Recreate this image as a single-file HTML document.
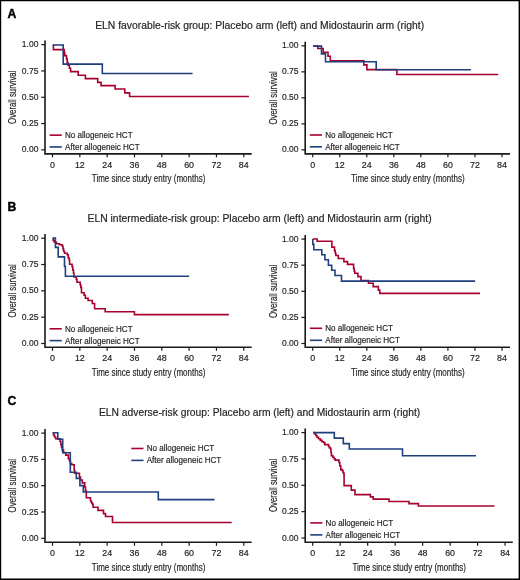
<!DOCTYPE html><html><head><meta charset="utf-8"><style>html,body{margin:0;padding:0;background:#fff;}svg{display:block;will-change:transform;}</style></head><body>
<svg width="520" height="580" viewBox="0 0 520 580" font-family='"Liberation Sans", sans-serif'>
<style>text{stroke:#2a2a2a;stroke-width:0.18px;}</style>
<rect x="0" y="0" width="520" height="580" fill="#fff"/>
<path d="M0,0 H520 V580 H0 Z M1.2,1.2 V578.6 H518.6 V1.2 Z" fill="#000" fill-rule="evenodd"/>
<text x="7.4" y="17.5" font-size="12.2" font-weight="bold" fill="#000" style="stroke:#000;stroke-width:0.4px">A</text>
<text x="7.4" y="210.7" font-size="12.2" font-weight="bold" fill="#000" style="stroke:#000;stroke-width:0.4px">B</text>
<text x="7.4" y="404.5" font-size="12.2" font-weight="bold" fill="#000" style="stroke:#000;stroke-width:0.4px">C</text>
<text x="95.20" y="29.2" font-size="10.1" fill="#222" textLength="328.90" lengthAdjust="spacingAndGlyphs">ELN favorable-risk group: Placebo arm (left) and Midostaurin arm (right)</text>
<text x="87.50" y="222.3" font-size="10.1" fill="#222" textLength="344.20" lengthAdjust="spacingAndGlyphs">ELN intermediate-risk group: Placebo arm (left) and Midostaurin arm (right)</text>
<text x="99.00" y="415.9" font-size="10.1" fill="#222" textLength="321.20" lengthAdjust="spacingAndGlyphs">ELN adverse-risk group: Placebo arm (left) and Midostaurin arm (right)</text>
<path d="M45.00,40.60 V153.85 H251.70" fill="none" stroke="#1a1a1a" stroke-width="1.6" stroke-linejoin="miter"/>
<line x1="41.20" y1="149.85" x2="45.00" y2="149.85" stroke="#1a1a1a" stroke-width="1.2"/>
<text x="38.40" y="152.45" font-size="9.3" fill="#222" text-anchor="end" textLength="16.6" lengthAdjust="spacingAndGlyphs">0.00</text>
<line x1="41.20" y1="123.55" x2="45.00" y2="123.55" stroke="#1a1a1a" stroke-width="1.2"/>
<text x="38.40" y="126.15" font-size="9.3" fill="#222" text-anchor="end" textLength="16.6" lengthAdjust="spacingAndGlyphs">0.25</text>
<line x1="41.20" y1="97.25" x2="45.00" y2="97.25" stroke="#1a1a1a" stroke-width="1.2"/>
<text x="38.40" y="99.85" font-size="9.3" fill="#222" text-anchor="end" textLength="16.6" lengthAdjust="spacingAndGlyphs">0.50</text>
<line x1="41.20" y1="70.95" x2="45.00" y2="70.95" stroke="#1a1a1a" stroke-width="1.2"/>
<text x="38.40" y="73.55" font-size="9.3" fill="#222" text-anchor="end" textLength="16.6" lengthAdjust="spacingAndGlyphs">0.75</text>
<line x1="41.20" y1="44.65" x2="45.00" y2="44.65" stroke="#1a1a1a" stroke-width="1.2"/>
<text x="38.40" y="47.25" font-size="9.3" fill="#222" text-anchor="end" textLength="16.6" lengthAdjust="spacingAndGlyphs">1.00</text>
<line x1="52.50" y1="153.85" x2="52.50" y2="157.35" stroke="#1a1a1a" stroke-width="1.2"/>
<text x="52.50" y="167.95" font-size="8.9" fill="#222" text-anchor="middle">0</text>
<line x1="79.83" y1="153.85" x2="79.83" y2="157.35" stroke="#1a1a1a" stroke-width="1.2"/>
<text x="79.83" y="167.95" font-size="8.9" fill="#222" text-anchor="middle">12</text>
<line x1="107.16" y1="153.85" x2="107.16" y2="157.35" stroke="#1a1a1a" stroke-width="1.2"/>
<text x="107.16" y="167.95" font-size="8.9" fill="#222" text-anchor="middle">24</text>
<line x1="134.49" y1="153.85" x2="134.49" y2="157.35" stroke="#1a1a1a" stroke-width="1.2"/>
<text x="134.49" y="167.95" font-size="8.9" fill="#222" text-anchor="middle">36</text>
<line x1="161.81" y1="153.85" x2="161.81" y2="157.35" stroke="#1a1a1a" stroke-width="1.2"/>
<text x="161.81" y="167.95" font-size="8.9" fill="#222" text-anchor="middle">48</text>
<line x1="189.14" y1="153.85" x2="189.14" y2="157.35" stroke="#1a1a1a" stroke-width="1.2"/>
<text x="189.14" y="167.95" font-size="8.9" fill="#222" text-anchor="middle">60</text>
<line x1="216.47" y1="153.85" x2="216.47" y2="157.35" stroke="#1a1a1a" stroke-width="1.2"/>
<text x="216.47" y="167.95" font-size="8.9" fill="#222" text-anchor="middle">72</text>
<line x1="243.80" y1="153.85" x2="243.80" y2="157.35" stroke="#1a1a1a" stroke-width="1.2"/>
<text x="243.80" y="167.95" font-size="8.9" fill="#222" text-anchor="middle">84</text>
<text x="91.85" y="182.15" font-size="10.8" fill="#222" textLength="113.5" lengthAdjust="spacingAndGlyphs">Time since study entry (months)</text>
<text transform="translate(16.30,123.95) rotate(-90)" x="0" y="0" font-size="10.5" fill="#222" textLength="53.4" lengthAdjust="spacingAndGlyphs">Overall survival</text>
<line x1="49.60" y1="135.15" x2="61.80" y2="135.15" stroke="#a8002e" stroke-width="1.6"/>
<text x="65.00" y="138.10" font-size="8.9" fill="#222" textLength="67.6" lengthAdjust="spacingAndGlyphs">No allogeneic HCT</text>
<line x1="49.60" y1="146.95" x2="61.80" y2="146.95" stroke="#1f3f7d" stroke-width="1.6"/>
<text x="65.00" y="149.90" font-size="8.9" fill="#222" textLength="74.6" lengthAdjust="spacingAndGlyphs">After allogeneic HCT</text>
<path d="M52.8,45.0 H53.4 V49.6 H64.2 V52.2 H64.7 V55.6 H66.5 V59.0 H67.2 V62.6 H68.0 V65.1 H69.4 V68.2 H70.6 V71.6 H78.2 V75.2 H85.4 V78.6 H97.7 V82.4 H101.1 V85.6 H115.1 V89.0 H124.8 V92.9 H129.6 V96.5 H248.9 V96.5" fill="none" stroke="#a8002e" stroke-width="1.6" stroke-linejoin="miter" stroke-linecap="butt"/>
<path d="M52.8,45.0 H63.2 V64.1 H102.3 V73.5 H192.6 V73.5" fill="none" stroke="#1f3f7d" stroke-width="1.6" stroke-linejoin="miter" stroke-linecap="butt"/>
<path d="M305.20,41.80 V153.85 H510.00" fill="none" stroke="#1a1a1a" stroke-width="1.6" stroke-linejoin="miter"/>
<line x1="301.40" y1="149.85" x2="305.20" y2="149.85" stroke="#1a1a1a" stroke-width="1.2"/>
<text x="298.60" y="152.45" font-size="9.3" fill="#222" text-anchor="end" textLength="16.6" lengthAdjust="spacingAndGlyphs">0.00</text>
<line x1="301.40" y1="123.85" x2="305.20" y2="123.85" stroke="#1a1a1a" stroke-width="1.2"/>
<text x="298.60" y="126.45" font-size="9.3" fill="#222" text-anchor="end" textLength="16.6" lengthAdjust="spacingAndGlyphs">0.25</text>
<line x1="301.40" y1="97.85" x2="305.20" y2="97.85" stroke="#1a1a1a" stroke-width="1.2"/>
<text x="298.60" y="100.45" font-size="9.3" fill="#222" text-anchor="end" textLength="16.6" lengthAdjust="spacingAndGlyphs">0.50</text>
<line x1="301.40" y1="71.85" x2="305.20" y2="71.85" stroke="#1a1a1a" stroke-width="1.2"/>
<text x="298.60" y="74.45" font-size="9.3" fill="#222" text-anchor="end" textLength="16.6" lengthAdjust="spacingAndGlyphs">0.75</text>
<line x1="301.40" y1="45.85" x2="305.20" y2="45.85" stroke="#1a1a1a" stroke-width="1.2"/>
<text x="298.60" y="48.45" font-size="9.3" fill="#222" text-anchor="end" textLength="16.6" lengthAdjust="spacingAndGlyphs">1.00</text>
<line x1="312.70" y1="153.85" x2="312.70" y2="157.35" stroke="#1a1a1a" stroke-width="1.2"/>
<text x="312.70" y="167.95" font-size="8.9" fill="#222" text-anchor="middle">0</text>
<line x1="339.74" y1="153.85" x2="339.74" y2="157.35" stroke="#1a1a1a" stroke-width="1.2"/>
<text x="339.74" y="167.95" font-size="8.9" fill="#222" text-anchor="middle">12</text>
<line x1="366.79" y1="153.85" x2="366.79" y2="157.35" stroke="#1a1a1a" stroke-width="1.2"/>
<text x="366.79" y="167.95" font-size="8.9" fill="#222" text-anchor="middle">24</text>
<line x1="393.83" y1="153.85" x2="393.83" y2="157.35" stroke="#1a1a1a" stroke-width="1.2"/>
<text x="393.83" y="167.95" font-size="8.9" fill="#222" text-anchor="middle">36</text>
<line x1="420.87" y1="153.85" x2="420.87" y2="157.35" stroke="#1a1a1a" stroke-width="1.2"/>
<text x="420.87" y="167.95" font-size="8.9" fill="#222" text-anchor="middle">48</text>
<line x1="447.91" y1="153.85" x2="447.91" y2="157.35" stroke="#1a1a1a" stroke-width="1.2"/>
<text x="447.91" y="167.95" font-size="8.9" fill="#222" text-anchor="middle">60</text>
<line x1="474.96" y1="153.85" x2="474.96" y2="157.35" stroke="#1a1a1a" stroke-width="1.2"/>
<text x="474.96" y="167.95" font-size="8.9" fill="#222" text-anchor="middle">72</text>
<line x1="502.00" y1="153.85" x2="502.00" y2="157.35" stroke="#1a1a1a" stroke-width="1.2"/>
<text x="502.00" y="167.95" font-size="8.9" fill="#222" text-anchor="middle">84</text>
<text x="351.10" y="182.15" font-size="10.8" fill="#222" textLength="113.5" lengthAdjust="spacingAndGlyphs">Time since study entry (months)</text>
<text transform="translate(276.50,124.55) rotate(-90)" x="0" y="0" font-size="10.5" fill="#222" textLength="53.4" lengthAdjust="spacingAndGlyphs">Overall survival</text>
<line x1="309.80" y1="135.00" x2="322.00" y2="135.00" stroke="#a8002e" stroke-width="1.6"/>
<text x="325.20" y="137.95" font-size="8.9" fill="#222" textLength="67.6" lengthAdjust="spacingAndGlyphs">No allogeneic HCT</text>
<line x1="309.80" y1="146.80" x2="322.00" y2="146.80" stroke="#1f3f7d" stroke-width="1.6"/>
<text x="325.20" y="149.75" font-size="8.9" fill="#222" textLength="74.6" lengthAdjust="spacingAndGlyphs">After allogeneic HCT</text>
<path d="M313.2,46.1 H317.8 V48.5 H323.2 V52.2 H328.0 V56.3 H330.3 V60.7 H363.8 V64.9 H366.9 V69.6 H396.9 V74.5 H498.2 V74.5" fill="none" stroke="#a8002e" stroke-width="1.6" stroke-linejoin="miter" stroke-linecap="butt"/>
<path d="M313.2,46.1 H321.5 V53.9 H325.5 V61.8 H376.2 V69.8 H470.9 V69.8" fill="none" stroke="#1f3f7d" stroke-width="1.6" stroke-linejoin="miter" stroke-linecap="butt"/>
<path d="M45.00,234.10 V347.30 H251.70" fill="none" stroke="#1a1a1a" stroke-width="1.6" stroke-linejoin="miter"/>
<line x1="41.20" y1="343.50" x2="45.00" y2="343.50" stroke="#1a1a1a" stroke-width="1.2"/>
<text x="38.40" y="346.10" font-size="9.3" fill="#222" text-anchor="end" textLength="16.6" lengthAdjust="spacingAndGlyphs">0.00</text>
<line x1="41.20" y1="317.18" x2="45.00" y2="317.18" stroke="#1a1a1a" stroke-width="1.2"/>
<text x="38.40" y="319.78" font-size="9.3" fill="#222" text-anchor="end" textLength="16.6" lengthAdjust="spacingAndGlyphs">0.25</text>
<line x1="41.20" y1="290.85" x2="45.00" y2="290.85" stroke="#1a1a1a" stroke-width="1.2"/>
<text x="38.40" y="293.45" font-size="9.3" fill="#222" text-anchor="end" textLength="16.6" lengthAdjust="spacingAndGlyphs">0.50</text>
<line x1="41.20" y1="264.52" x2="45.00" y2="264.52" stroke="#1a1a1a" stroke-width="1.2"/>
<text x="38.40" y="267.12" font-size="9.3" fill="#222" text-anchor="end" textLength="16.6" lengthAdjust="spacingAndGlyphs">0.75</text>
<line x1="41.20" y1="238.20" x2="45.00" y2="238.20" stroke="#1a1a1a" stroke-width="1.2"/>
<text x="38.40" y="240.80" font-size="9.3" fill="#222" text-anchor="end" textLength="16.6" lengthAdjust="spacingAndGlyphs">1.00</text>
<line x1="52.50" y1="347.30" x2="52.50" y2="350.80" stroke="#1a1a1a" stroke-width="1.2"/>
<text x="52.50" y="361.40" font-size="8.9" fill="#222" text-anchor="middle">0</text>
<line x1="79.83" y1="347.30" x2="79.83" y2="350.80" stroke="#1a1a1a" stroke-width="1.2"/>
<text x="79.83" y="361.40" font-size="8.9" fill="#222" text-anchor="middle">12</text>
<line x1="107.16" y1="347.30" x2="107.16" y2="350.80" stroke="#1a1a1a" stroke-width="1.2"/>
<text x="107.16" y="361.40" font-size="8.9" fill="#222" text-anchor="middle">24</text>
<line x1="134.49" y1="347.30" x2="134.49" y2="350.80" stroke="#1a1a1a" stroke-width="1.2"/>
<text x="134.49" y="361.40" font-size="8.9" fill="#222" text-anchor="middle">36</text>
<line x1="161.81" y1="347.30" x2="161.81" y2="350.80" stroke="#1a1a1a" stroke-width="1.2"/>
<text x="161.81" y="361.40" font-size="8.9" fill="#222" text-anchor="middle">48</text>
<line x1="189.14" y1="347.30" x2="189.14" y2="350.80" stroke="#1a1a1a" stroke-width="1.2"/>
<text x="189.14" y="361.40" font-size="8.9" fill="#222" text-anchor="middle">60</text>
<line x1="216.47" y1="347.30" x2="216.47" y2="350.80" stroke="#1a1a1a" stroke-width="1.2"/>
<text x="216.47" y="361.40" font-size="8.9" fill="#222" text-anchor="middle">72</text>
<line x1="243.80" y1="347.30" x2="243.80" y2="350.80" stroke="#1a1a1a" stroke-width="1.2"/>
<text x="243.80" y="361.40" font-size="8.9" fill="#222" text-anchor="middle">84</text>
<text x="91.85" y="375.60" font-size="10.8" fill="#222" textLength="113.5" lengthAdjust="spacingAndGlyphs">Time since study entry (months)</text>
<text transform="translate(16.30,317.55) rotate(-90)" x="0" y="0" font-size="10.5" fill="#222" textLength="53.4" lengthAdjust="spacingAndGlyphs">Overall survival</text>
<line x1="49.60" y1="328.80" x2="61.80" y2="328.80" stroke="#a8002e" stroke-width="1.6"/>
<text x="65.00" y="331.75" font-size="8.9" fill="#222" textLength="67.6" lengthAdjust="spacingAndGlyphs">No allogeneic HCT</text>
<line x1="49.60" y1="340.60" x2="61.80" y2="340.60" stroke="#1f3f7d" stroke-width="1.6"/>
<text x="65.00" y="343.55" font-size="8.9" fill="#222" textLength="74.6" lengthAdjust="spacingAndGlyphs">After allogeneic HCT</text>
<path d="M52.6,238.5 H53.2 V240.5 H54.3 V242.3 H56.5 V243.8 H59.5 V244.8 H62.3 V246.2 H63.0 V248.8 H63.6 V251.3 H64.5 V253.3 H67.3 V254.8 H68.2 V257.8 H69.1 V259.7 H69.6 V264.3 H72.1 V266.8 H72.8 V270.0 H73.5 V273.0 H73.9 V276.9 H76.3 V279.5 H77.0 V282.2 H80.2 V285.0 H80.8 V287.4 H81.5 V292.7 H84.1 V295.3 H85.4 V298.2 H88.1 V300.5 H92.3 V303.5 H94.6 V308.7 H105.2 V311.7 H134.4 V314.6 H228.8 V314.6" fill="none" stroke="#a8002e" stroke-width="1.6" stroke-linejoin="miter" stroke-linecap="butt"/>
<path d="M52.6,238.0 H55.4 V247.4 H58.2 V256.9 H64.5 V266.5 H65.4 V276.3 H189.2 V276.3" fill="none" stroke="#1f3f7d" stroke-width="1.6" stroke-linejoin="miter" stroke-linecap="butt"/>
<path d="M305.20,235.00 V347.30 H510.00" fill="none" stroke="#1a1a1a" stroke-width="1.6" stroke-linejoin="miter"/>
<line x1="301.40" y1="343.50" x2="305.20" y2="343.50" stroke="#1a1a1a" stroke-width="1.2"/>
<text x="298.60" y="346.10" font-size="9.3" fill="#222" text-anchor="end" textLength="16.6" lengthAdjust="spacingAndGlyphs">0.00</text>
<line x1="301.40" y1="317.40" x2="305.20" y2="317.40" stroke="#1a1a1a" stroke-width="1.2"/>
<text x="298.60" y="320.00" font-size="9.3" fill="#222" text-anchor="end" textLength="16.6" lengthAdjust="spacingAndGlyphs">0.25</text>
<line x1="301.40" y1="291.30" x2="305.20" y2="291.30" stroke="#1a1a1a" stroke-width="1.2"/>
<text x="298.60" y="293.90" font-size="9.3" fill="#222" text-anchor="end" textLength="16.6" lengthAdjust="spacingAndGlyphs">0.50</text>
<line x1="301.40" y1="265.20" x2="305.20" y2="265.20" stroke="#1a1a1a" stroke-width="1.2"/>
<text x="298.60" y="267.80" font-size="9.3" fill="#222" text-anchor="end" textLength="16.6" lengthAdjust="spacingAndGlyphs">0.75</text>
<line x1="301.40" y1="239.10" x2="305.20" y2="239.10" stroke="#1a1a1a" stroke-width="1.2"/>
<text x="298.60" y="241.70" font-size="9.3" fill="#222" text-anchor="end" textLength="16.6" lengthAdjust="spacingAndGlyphs">1.00</text>
<line x1="312.70" y1="347.30" x2="312.70" y2="350.80" stroke="#1a1a1a" stroke-width="1.2"/>
<text x="312.70" y="361.40" font-size="8.9" fill="#222" text-anchor="middle">0</text>
<line x1="339.74" y1="347.30" x2="339.74" y2="350.80" stroke="#1a1a1a" stroke-width="1.2"/>
<text x="339.74" y="361.40" font-size="8.9" fill="#222" text-anchor="middle">12</text>
<line x1="366.79" y1="347.30" x2="366.79" y2="350.80" stroke="#1a1a1a" stroke-width="1.2"/>
<text x="366.79" y="361.40" font-size="8.9" fill="#222" text-anchor="middle">24</text>
<line x1="393.83" y1="347.30" x2="393.83" y2="350.80" stroke="#1a1a1a" stroke-width="1.2"/>
<text x="393.83" y="361.40" font-size="8.9" fill="#222" text-anchor="middle">36</text>
<line x1="420.87" y1="347.30" x2="420.87" y2="350.80" stroke="#1a1a1a" stroke-width="1.2"/>
<text x="420.87" y="361.40" font-size="8.9" fill="#222" text-anchor="middle">48</text>
<line x1="447.91" y1="347.30" x2="447.91" y2="350.80" stroke="#1a1a1a" stroke-width="1.2"/>
<text x="447.91" y="361.40" font-size="8.9" fill="#222" text-anchor="middle">60</text>
<line x1="474.96" y1="347.30" x2="474.96" y2="350.80" stroke="#1a1a1a" stroke-width="1.2"/>
<text x="474.96" y="361.40" font-size="8.9" fill="#222" text-anchor="middle">72</text>
<line x1="502.00" y1="347.30" x2="502.00" y2="350.80" stroke="#1a1a1a" stroke-width="1.2"/>
<text x="502.00" y="361.40" font-size="8.9" fill="#222" text-anchor="middle">84</text>
<text x="351.10" y="375.60" font-size="10.8" fill="#222" textLength="113.5" lengthAdjust="spacingAndGlyphs">Time since study entry (months)</text>
<text transform="translate(276.50,318.00) rotate(-90)" x="0" y="0" font-size="10.5" fill="#222" textLength="53.4" lengthAdjust="spacingAndGlyphs">Overall survival</text>
<line x1="309.90" y1="328.30" x2="322.10" y2="328.30" stroke="#a8002e" stroke-width="1.6"/>
<text x="325.30" y="331.25" font-size="8.9" fill="#222" textLength="67.6" lengthAdjust="spacingAndGlyphs">No allogeneic HCT</text>
<line x1="309.90" y1="340.30" x2="322.10" y2="340.30" stroke="#1f3f7d" stroke-width="1.6"/>
<text x="325.30" y="343.25" font-size="8.9" fill="#222" textLength="74.6" lengthAdjust="spacingAndGlyphs">After allogeneic HCT</text>
<path d="M312.8,239.0 H317.1 V241.3 H331.9 V247.1 H334.5 V250.5 H335.2 V253.0 H335.8 V255.5 H338.3 V258.5 H343.9 V261.6 H347.5 V264.4 H353.6 V268.5 H354.2 V271.0 H354.8 V273.3 H357.9 V276.6 H361.0 V280.5 H368.5 V283.3 H373.2 V286.6 H378.3 V290.1 H379.8 V293.4 H480.0 V293.4" fill="none" stroke="#a8002e" stroke-width="1.6" stroke-linejoin="miter" stroke-linecap="butt"/>
<path d="M312.8,239.0 H312.8 V244.4 H313.8 V249.8 H321.8 V254.8 H324.9 V259.8 H328.4 V265.2 H331.7 V270.3 H335.0 V275.5 H341.5 V281.1 H475.1 V281.1" fill="none" stroke="#1f3f7d" stroke-width="1.6" stroke-linejoin="miter" stroke-linecap="butt"/>
<path d="M45.00,429.10 V542.30 H251.70" fill="none" stroke="#1a1a1a" stroke-width="1.6" stroke-linejoin="miter"/>
<line x1="41.20" y1="538.30" x2="45.00" y2="538.30" stroke="#1a1a1a" stroke-width="1.2"/>
<text x="38.40" y="540.90" font-size="9.3" fill="#222" text-anchor="end" textLength="16.6" lengthAdjust="spacingAndGlyphs">0.00</text>
<line x1="41.20" y1="512.00" x2="45.00" y2="512.00" stroke="#1a1a1a" stroke-width="1.2"/>
<text x="38.40" y="514.60" font-size="9.3" fill="#222" text-anchor="end" textLength="16.6" lengthAdjust="spacingAndGlyphs">0.25</text>
<line x1="41.20" y1="485.70" x2="45.00" y2="485.70" stroke="#1a1a1a" stroke-width="1.2"/>
<text x="38.40" y="488.30" font-size="9.3" fill="#222" text-anchor="end" textLength="16.6" lengthAdjust="spacingAndGlyphs">0.50</text>
<line x1="41.20" y1="459.40" x2="45.00" y2="459.40" stroke="#1a1a1a" stroke-width="1.2"/>
<text x="38.40" y="462.00" font-size="9.3" fill="#222" text-anchor="end" textLength="16.6" lengthAdjust="spacingAndGlyphs">0.75</text>
<line x1="41.20" y1="433.10" x2="45.00" y2="433.10" stroke="#1a1a1a" stroke-width="1.2"/>
<text x="38.40" y="435.70" font-size="9.3" fill="#222" text-anchor="end" textLength="16.6" lengthAdjust="spacingAndGlyphs">1.00</text>
<line x1="52.50" y1="542.30" x2="52.50" y2="545.80" stroke="#1a1a1a" stroke-width="1.2"/>
<text x="52.50" y="556.40" font-size="8.9" fill="#222" text-anchor="middle">0</text>
<line x1="79.83" y1="542.30" x2="79.83" y2="545.80" stroke="#1a1a1a" stroke-width="1.2"/>
<text x="79.83" y="556.40" font-size="8.9" fill="#222" text-anchor="middle">12</text>
<line x1="107.16" y1="542.30" x2="107.16" y2="545.80" stroke="#1a1a1a" stroke-width="1.2"/>
<text x="107.16" y="556.40" font-size="8.9" fill="#222" text-anchor="middle">24</text>
<line x1="134.49" y1="542.30" x2="134.49" y2="545.80" stroke="#1a1a1a" stroke-width="1.2"/>
<text x="134.49" y="556.40" font-size="8.9" fill="#222" text-anchor="middle">36</text>
<line x1="161.81" y1="542.30" x2="161.81" y2="545.80" stroke="#1a1a1a" stroke-width="1.2"/>
<text x="161.81" y="556.40" font-size="8.9" fill="#222" text-anchor="middle">48</text>
<line x1="189.14" y1="542.30" x2="189.14" y2="545.80" stroke="#1a1a1a" stroke-width="1.2"/>
<text x="189.14" y="556.40" font-size="8.9" fill="#222" text-anchor="middle">60</text>
<line x1="216.47" y1="542.30" x2="216.47" y2="545.80" stroke="#1a1a1a" stroke-width="1.2"/>
<text x="216.47" y="556.40" font-size="8.9" fill="#222" text-anchor="middle">72</text>
<line x1="243.80" y1="542.30" x2="243.80" y2="545.80" stroke="#1a1a1a" stroke-width="1.2"/>
<text x="243.80" y="556.40" font-size="8.9" fill="#222" text-anchor="middle">84</text>
<text x="91.85" y="570.60" font-size="10.8" fill="#222" textLength="113.5" lengthAdjust="spacingAndGlyphs">Time since study entry (months)</text>
<text transform="translate(16.30,512.40) rotate(-90)" x="0" y="0" font-size="10.5" fill="#222" textLength="53.4" lengthAdjust="spacingAndGlyphs">Overall survival</text>
<line x1="131.30" y1="448.50" x2="143.50" y2="448.50" stroke="#a8002e" stroke-width="1.6"/>
<text x="146.70" y="451.45" font-size="8.9" fill="#222" textLength="67.6" lengthAdjust="spacingAndGlyphs">No allogeneic HCT</text>
<line x1="131.30" y1="460.40" x2="143.50" y2="460.40" stroke="#1f3f7d" stroke-width="1.6"/>
<text x="146.70" y="463.35" font-size="8.9" fill="#222" textLength="74.6" lengthAdjust="spacingAndGlyphs">After allogeneic HCT</text>
<path d="M52.8,433.0 H53.5 V435.0 H54.5 V437.0 H55.7 V438.8 H60.1 V441.5 H60.8 V444.5 H61.5 V447.5 H62.3 V450.1 H63.5 V452.5 H65.7 V455.1 H68.3 V458.6 H69.5 V461.0 H70.4 V463.5 H71.8 V464.7 H74.2 V470.0 H74.6 V473.3 H79.4 V477.0 H80.5 V480.0 H82.3 V482.9 H84.7 V487.0 H85.5 V491.0 H86.3 V497.8 H90.5 V501.0 H91.5 V503.0 H92.5 V504.4 H93.1 V507.3 H98.0 V510.4 H103.5 V513.6 H105.5 V516.5 H112.5 V522.5 H231.7 V522.5" fill="none" stroke="#a8002e" stroke-width="1.6" stroke-linejoin="miter" stroke-linecap="butt"/>
<path d="M52.6,432.8 H57.8 V439.2 H62.7 V452.7 H70.3 V472.3 H76.3 V478.4 H79.9 V485.6 H83.3 V492.0 H158.3 V499.6 H214.6 V499.6" fill="none" stroke="#1f3f7d" stroke-width="1.6" stroke-linejoin="miter" stroke-linecap="butt"/>
<path d="M305.20,428.60 V542.30 H512.80" fill="none" stroke="#1a1a1a" stroke-width="1.6" stroke-linejoin="miter"/>
<line x1="301.40" y1="538.00" x2="305.20" y2="538.00" stroke="#1a1a1a" stroke-width="1.2"/>
<text x="298.60" y="540.60" font-size="9.3" fill="#222" text-anchor="end" textLength="16.6" lengthAdjust="spacingAndGlyphs">0.00</text>
<line x1="301.40" y1="511.65" x2="305.20" y2="511.65" stroke="#1a1a1a" stroke-width="1.2"/>
<text x="298.60" y="514.25" font-size="9.3" fill="#222" text-anchor="end" textLength="16.6" lengthAdjust="spacingAndGlyphs">0.25</text>
<line x1="301.40" y1="485.30" x2="305.20" y2="485.30" stroke="#1a1a1a" stroke-width="1.2"/>
<text x="298.60" y="487.90" font-size="9.3" fill="#222" text-anchor="end" textLength="16.6" lengthAdjust="spacingAndGlyphs">0.50</text>
<line x1="301.40" y1="458.95" x2="305.20" y2="458.95" stroke="#1a1a1a" stroke-width="1.2"/>
<text x="298.60" y="461.55" font-size="9.3" fill="#222" text-anchor="end" textLength="16.6" lengthAdjust="spacingAndGlyphs">0.75</text>
<line x1="301.40" y1="432.60" x2="305.20" y2="432.60" stroke="#1a1a1a" stroke-width="1.2"/>
<text x="298.60" y="435.20" font-size="9.3" fill="#222" text-anchor="end" textLength="16.6" lengthAdjust="spacingAndGlyphs">1.00</text>
<line x1="312.70" y1="542.30" x2="312.70" y2="545.80" stroke="#1a1a1a" stroke-width="1.2"/>
<text x="312.70" y="556.40" font-size="8.9" fill="#222" text-anchor="middle">0</text>
<line x1="340.19" y1="542.30" x2="340.19" y2="545.80" stroke="#1a1a1a" stroke-width="1.2"/>
<text x="340.19" y="556.40" font-size="8.9" fill="#222" text-anchor="middle">12</text>
<line x1="367.67" y1="542.30" x2="367.67" y2="545.80" stroke="#1a1a1a" stroke-width="1.2"/>
<text x="367.67" y="556.40" font-size="8.9" fill="#222" text-anchor="middle">24</text>
<line x1="395.16" y1="542.30" x2="395.16" y2="545.80" stroke="#1a1a1a" stroke-width="1.2"/>
<text x="395.16" y="556.40" font-size="8.9" fill="#222" text-anchor="middle">36</text>
<line x1="422.64" y1="542.30" x2="422.64" y2="545.80" stroke="#1a1a1a" stroke-width="1.2"/>
<text x="422.64" y="556.40" font-size="8.9" fill="#222" text-anchor="middle">48</text>
<line x1="450.13" y1="542.30" x2="450.13" y2="545.80" stroke="#1a1a1a" stroke-width="1.2"/>
<text x="450.13" y="556.40" font-size="8.9" fill="#222" text-anchor="middle">60</text>
<line x1="477.61" y1="542.30" x2="477.61" y2="545.80" stroke="#1a1a1a" stroke-width="1.2"/>
<text x="477.61" y="556.40" font-size="8.9" fill="#222" text-anchor="middle">72</text>
<line x1="505.10" y1="542.30" x2="505.10" y2="545.80" stroke="#1a1a1a" stroke-width="1.2"/>
<text x="505.10" y="556.40" font-size="8.9" fill="#222" text-anchor="middle">84</text>
<text x="352.50" y="570.60" font-size="10.8" fill="#222" textLength="113.5" lengthAdjust="spacingAndGlyphs">Time since study entry (months)</text>
<text transform="translate(276.50,512.00) rotate(-90)" x="0" y="0" font-size="10.5" fill="#222" textLength="53.4" lengthAdjust="spacingAndGlyphs">Overall survival</text>
<line x1="310.20" y1="522.90" x2="322.40" y2="522.90" stroke="#a8002e" stroke-width="1.6"/>
<text x="325.60" y="525.85" font-size="8.9" fill="#222" textLength="67.6" lengthAdjust="spacingAndGlyphs">No allogeneic HCT</text>
<line x1="310.20" y1="534.90" x2="322.40" y2="534.90" stroke="#1f3f7d" stroke-width="1.6"/>
<text x="325.60" y="537.85" font-size="8.9" fill="#222" textLength="74.6" lengthAdjust="spacingAndGlyphs">After allogeneic HCT</text>
<path d="M313.6,432.6 H314.6 V434.0 H315.8 V435.5 H317.0 V437.2 H318.5 V438.8 H320.3 V440.4 H322.0 V441.8 H323.8 V442.8 H324.8 V444.6 H328.6 V446.5 H329.5 V448.0 H330.7 V449.4 H331.0 V452.5 H331.4 V455.6 H332.8 V457.2 H334.1 V458.7 H335.2 V460.1 H339.0 V462.5 H339.8 V466.0 H340.8 V469.6 H342.2 V470.5 H343.0 V472.5 H343.8 V474.0 H344.1 V485.6 H351.3 V490.1 H355.0 V494.6 H370.4 V496.9 H373.2 V499.1 H389.0 V501.5 H409.0 V503.6 H418.4 V506.0 H494.5 V506.0" fill="none" stroke="#a8002e" stroke-width="1.6" stroke-linejoin="miter" stroke-linecap="butt"/>
<path d="M313.0,432.6 H334.3 V438.1 H343.3 V443.6 H349.3 V449.0 H402.5 V455.8 H476.0 V455.8" fill="none" stroke="#1f3f7d" stroke-width="1.6" stroke-linejoin="miter" stroke-linecap="butt"/>
</svg></body></html>
